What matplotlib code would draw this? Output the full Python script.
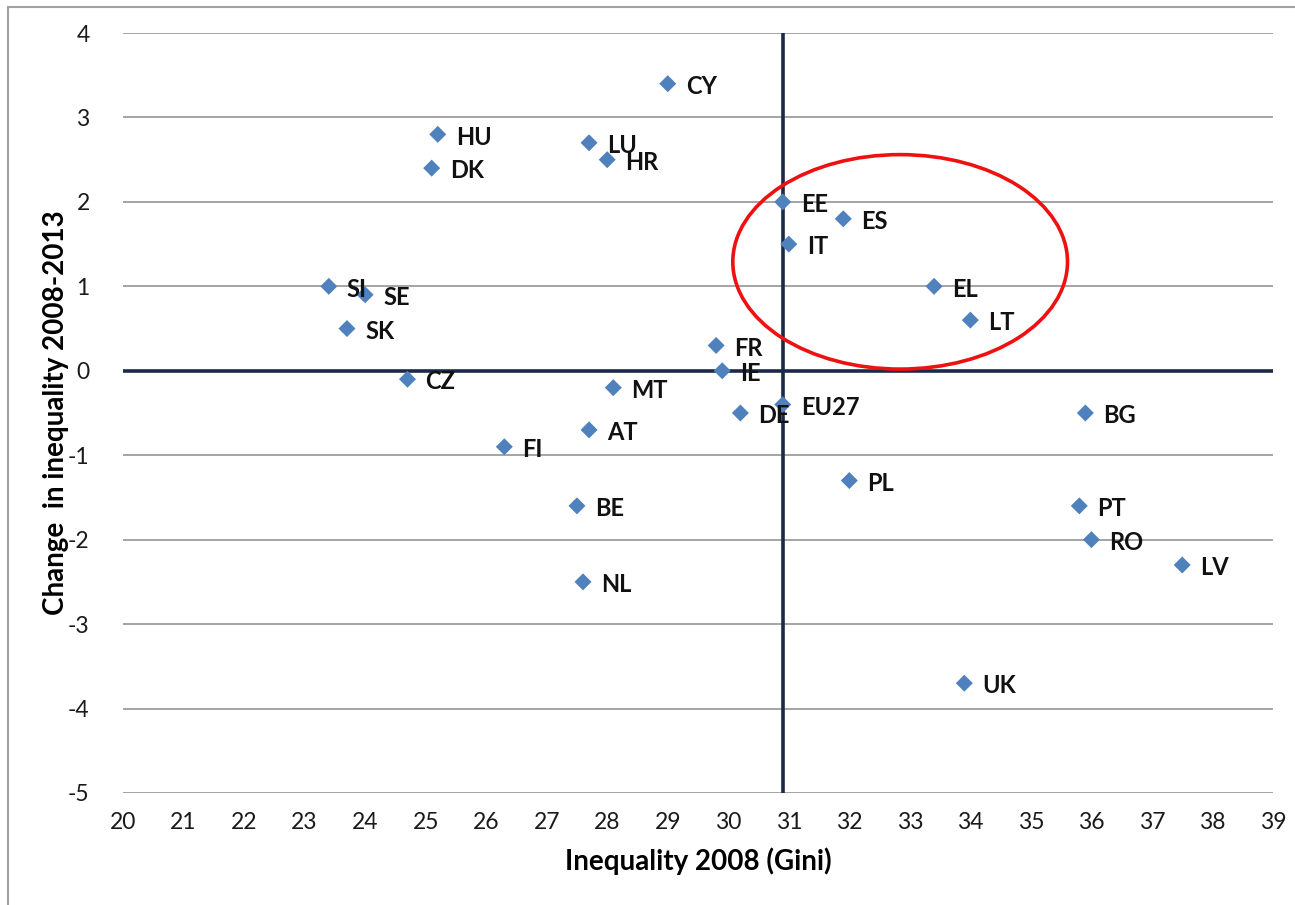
import matplotlib
matplotlib.use("Agg")
import matplotlib.pyplot as plt
from matplotlib.patches import Ellipse, Rectangle

# Data
countries = ["CY", "HU", "LU", "HR", "DK", "EE", "ES", "IT", "EL", "LT",
             "SI", "SE", "SK", "FR", "IE", "CZ", "MT", "EU27", "DE", "BG",
             "AT", "FI", "PL", "BE", "PT", "RO", "LV", "NL", "UK"]
gini_2008 = [29.0, 25.2, 27.7, 28.0, 25.1, 30.9, 31.9, 31.0, 33.4, 34.0,
             23.4, 24.0, 23.7, 29.8, 29.9, 24.7, 28.1, 30.9, 30.2, 35.9,
             27.7, 26.3, 32.0, 27.5, 35.8, 36.0, 37.5, 27.6, 33.9]
change_08_13 = [3.4, 2.8, 2.7, 2.5, 2.4, 2.0, 1.8, 1.5, 1.0, 0.6,
                1.0, 0.9, 0.5, 0.3, 0.0, -0.1, -0.2, -0.4, -0.5, -0.5,
                -0.7, -0.9, -1.3, -1.6, -1.6, -2.0, -2.3, -2.5, -3.7]

eu_avg_gini = 30.9
x_ticks = list(range(20, 40))
y_ticks = list(range(-5, 5))

# highlighted group (ellipse centre / size in data units)
circle_center = (32.84, 1.29)
circle_size = (5.53, 2.54)

plt.rcParams["font.family"] = ["Lato", "DejaVu Sans"]
plt.rcParams["axes.unicode_minus"] = False

fig = plt.figure(figsize=(12.95, 9.05), dpi=100)
ax = fig.add_axes([0.095, 0.1238, 0.888, 0.8397])

ax.set_xlim(20, 39)
ax.set_ylim(-5, 4)
ax.set_xticks(x_ticks)
ax.set_yticks(y_ticks)
ax.tick_params(axis="both", length=0, labelsize=16.5, colors="#1a1a1a")
ax.tick_params(axis="x", pad=14)
ax.tick_params(axis="y", pad=24)

ax.grid(axis="y", color="#8c8c8c", linewidth=1.1)
ax.set_axisbelow(True)
for s in ax.spines.values():
    s.set_visible(False)

ax.axvline(eu_avg_gini, color="#1b2a48", linewidth=2.6, zorder=2)
ax.axhline(0, color="#1b2a48", linewidth=2.6, zorder=2)

ax.scatter(gini_2008, change_08_13, marker="D", s=75, color="#4f81bd",
           edgecolors="none", zorder=3)
for name, x, y in zip(countries, gini_2008, change_08_13):
    ax.annotate(name, (x, y), xytext=(13, -2), textcoords="offset points",
                ha="left", va="center", fontsize=17, fontweight="bold",
                color="#111111", zorder=4)

ax.add_patch(Ellipse(circle_center, circle_size[0], circle_size[1],
                     fill=False, edgecolor="#ee1111", linewidth=2.6, zorder=5))

ax.set_xlabel("Inequality 2008 (Gini)", fontsize=20, fontweight="bold",
              labelpad=10)
ax.set_ylabel("Change  in inequality 2008-2013", fontsize=20,
              fontweight="bold")
ax.yaxis.set_label_coords(-0.047, 0.5)

# outer chart frame
fig.add_artist(Rectangle((8 / 1295, -0.05), 1.2, 1.05 - 7 / 905,
                         transform=fig.transFigure, fill=False,
                         edgecolor="#a0a0a0", linewidth=1.5))

fig.savefig("out.png", dpi=100)
